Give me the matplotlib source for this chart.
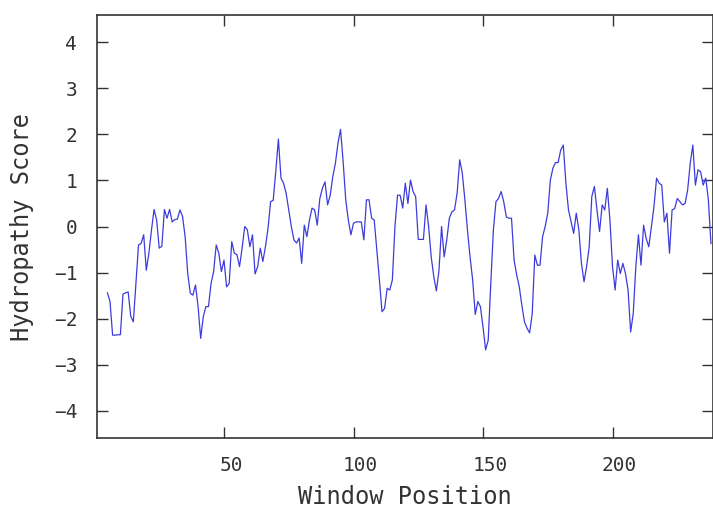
import numpy as np
import matplotlib
matplotlib.use("Agg")
import matplotlib.pyplot as plt
from matplotlib.transforms import ScaledTranslation

# hydropathy score per window centre (positions 5..238)
first_pos = 5
scores = [
    -1.44, -1.63, -2.36, -2.36, -2.35, -2.35, -1.47, -1.44, -1.42, -1.95,
    -2.07, -1.25, -0.40, -0.37, -0.18, -0.95, -0.58, -0.08, 0.37, 0.14,
    -0.47, -0.43, 0.37, 0.18, 0.37, 0.10, 0.15, 0.16, 0.36, 0.22,
    -0.22, -1.02, -1.45, -1.49, -1.27, -1.74, -2.43, -1.96, -1.74, -1.74,
    -1.24, -0.98, -0.40, -0.58, -0.98, -0.73, -1.31, -1.24, -0.33, -0.58,
    -0.61, -0.87, -0.47, 0.00, -0.07, -0.44, -0.18, -1.03, -0.87, -0.47,
    -0.76, -0.44, -0.04, 0.54, 0.57, 1.20, 1.90, 1.05, 0.94, 0.72,
    0.36, 0.00, -0.29, -0.36, -0.25, -0.80, 0.03, -0.22, 0.14, 0.40,
    0.36, 0.03, 0.61, 0.83, 0.97, 0.47, 0.68, 1.08, 1.37, 1.81,
    2.11, 1.41, 0.58, 0.14, -0.18, 0.07, 0.10, 0.10, 0.10, -0.29,
    0.58, 0.58, 0.18, 0.14, -0.51, -1.16, -1.85, -1.78, -1.34, -1.38,
    -1.16, 0.00, 0.68, 0.68, 0.40, 0.94, 0.50, 1.01, 0.76, 0.65,
    -0.28, -0.28, -0.28, 0.47, 0.00, -0.66, -1.09, -1.40, -0.95, 0.00,
    -0.66, -0.29, 0.18, 0.32, 0.36, 0.72, 1.45, 1.16, 0.58, -0.08,
    -0.66, -1.16, -1.91, -1.63, -1.74, -2.18, -2.68, -2.47, -1.24, -0.08,
    0.54, 0.61, 0.76, 0.54, 0.21, 0.18, 0.18, -0.73, -1.05, -1.31,
    -1.71, -2.07, -2.21, -2.31, -1.89, -0.62, -0.84, -0.84, -0.22, 0.00,
    0.29, 1.01, 1.27, 1.39, 1.39, 1.66, 1.77, 0.94, 0.36, 0.10,
    -0.15, 0.29, -0.07, -0.80, -1.20, -0.87, -0.44, 0.65, 0.87, 0.36,
    -0.11, 0.47, 0.36, 0.83, 0.14, -0.87, -1.38, -0.73, -1.02, -0.80,
    -1.02, -1.38, -2.29, -1.89, -0.87, -0.18, -0.84, 0.03, -0.26, -0.44,
    0.00, 0.43, 1.05, 0.94, 0.90, 0.10, 0.29, -0.58, 0.36, 0.39,
    0.61, 0.54, 0.47, 0.50, 0.79, 1.37, 1.77, 0.90, 1.23, 1.19,
    0.90, 1.05, 0.58, -0.37,
]
positions = np.arange(first_pos, first_pos + len(scores))

x_ticks = [50, 100, 150, 200]
y_ticks = [-4, -3, -2, -1, 0, 1, 2, 3, 4]

plt.rcParams["font.family"] = ["DejaVu Sans Mono", "DejaVu Sans"]

fig = plt.figure(figsize=(7.13, 5.13), dpi=100)
ax = fig.add_axes([0.1356, 0.1456, 0.8637, 0.8257])

ax.plot(positions, scores, color="#3c3cdc", lw=0.9)

ax.set_xlim(0.85, 238.6)
ax.set_ylim(-4.6, 4.6)
ax.set_xticks(x_ticks)
ax.set_yticks(y_ticks)

ink = "#333333"
for s in ax.spines.values():
    s.set_color(ink)
    s.set_linewidth(1.2)
ax.tick_params(direction="in", length=8, width=1.0, color=ink,
               top=True, right=True, labelsize=14, labelcolor=ink)
ax.tick_params(axis="x", pad=13)
ax.tick_params(axis="y", pad=14)

# the old plotter puts x labels a little right of the tick
shift = ScaledTranslation(0.07, 0, fig.dpi_scale_trans)
for lab in ax.get_xticklabels():
    lab.set_transform(lab.get_transform() + shift)

ax.set_xlabel("Window Position", fontsize=17, color=ink, va="center")
ax.xaxis.set_label_coords(0.5, -0.138)
ax.set_ylabel("Hydropathy Score", fontsize=17, color=ink, va="center")
ax.yaxis.set_label_coords(-0.121, 0.5)

fig.savefig("out.png", dpi=100, facecolor="white")
